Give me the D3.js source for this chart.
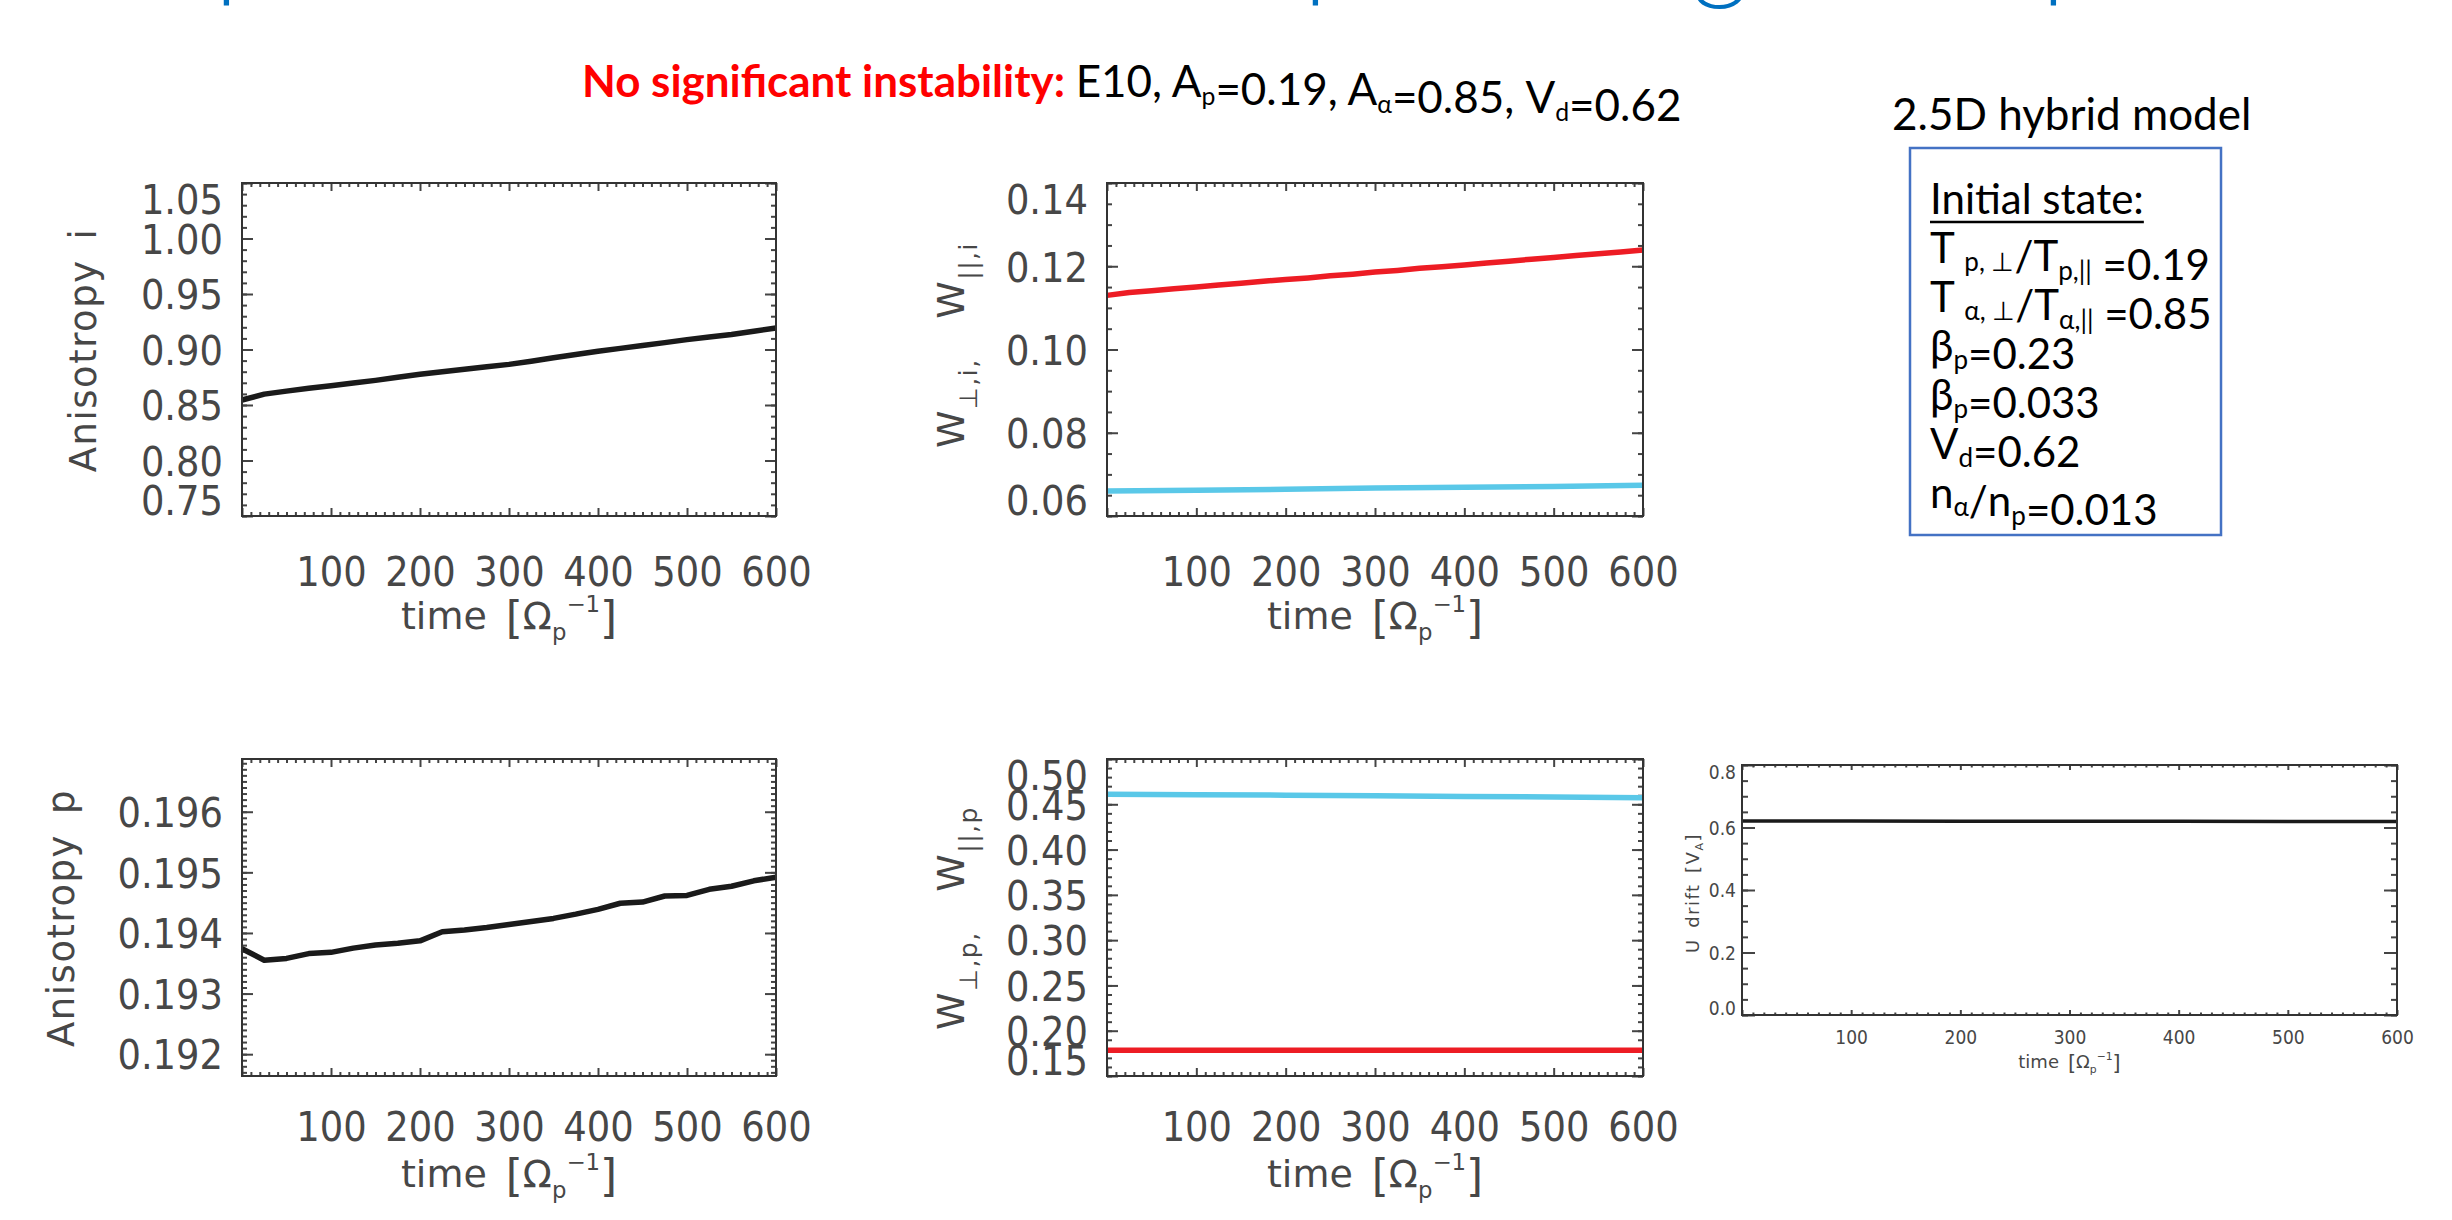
<!DOCTYPE html>
<html>
<head>
<meta charset="utf-8">
<script src="https://cdn.jsdelivr.net/npm/d3@7"></script>
<style>
  body { margin: 0; background: #fff; }
  svg { display: block; }
</style>
</head>
<body>
<svg id="fig" width="2452" height="1220"></svg>
<script>
// time samples [Omega_p^-1]
var tFine = [0,25,50,75,100,125,150,175,200,225,250,275,300,325,350,375,400,425,450,475,500,525,550,575,600];
var tCoarse = [0,100,200,300,400,500,600];

// series
var anisoI = [0.8545,0.8598,0.8625,0.8650,0.8673,0.8698,0.8722,0.8750,0.8777,0.8800,0.8822,0.8844,0.8866,
              0.8895,0.8925,0.8955,0.8985,0.9010,0.9036,0.9062,0.9089,0.9112,0.9136,0.9165,0.9193];
var anisoP = [0.19374,0.19355,0.19358,0.19366,0.19368,0.19375,0.19380,0.19383,0.19387,0.19402,0.19405,0.19409,0.19414,
              0.19419,0.19424,0.19431,0.19439,0.19449,0.19451,0.19461,0.19462,0.19472,0.19477,0.19486,0.19492];
var wRedI = [0.1130,0.1137,0.1141,0.1146,0.1150,0.1155,0.1159,0.1164,0.1168,0.1172,0.1177,0.1181,0.1186,
             0.1190,0.1195,0.1199,0.1203,0.1208,0.1212,0.1217,0.1221,0.1226,0.1230,0.1234,0.1239];
var wBlueI = [0.0660,0.0662,0.0664,0.0667,0.0669,0.0671,0.0674];
var wBlueP = [0.4611,0.4606,0.4601,0.4594,0.4587,0.4580,0.4573];
var wRedP = [0.1785,0.1785,0.1784,0.1784,0.1784,0.1784,0.1784];
var uDrift = [0.621,0.621,0.620,0.620,0.620,0.619,0.619];

// tick labels
var xTicks = [0,100,200,300,400,500,600];
var yTicksAnisoI = [0.75,0.80,0.85,0.90,0.95,1.00,1.05];
var yTicksWI = [0.06,0.08,0.10,0.12,0.14];
var yTicksAnisoP = [0.192,0.193,0.194,0.195,0.196];
var yTicksWP = [0.15,0.20,0.25,0.30,0.35,0.40,0.45,0.50];
var yTicksDrift = [0.0,0.2,0.4,0.6,0.8];

var RED = "#ed1c24", BLUE = "#5ac8e8", INK = "#1a1a1a", AXIS_INK = "#474747";
var IDL = '"DejaVu Sans Condensed", "DejaVu Sans", sans-serif';
var IDL_WIDE = '"DejaVu Sans", sans-serif';
var OFFICE = 'Lato, "Open Sans", sans-serif';

var svg = d3.select("#fig");

function panel(p) {
  var g = svg.append("g").attr("transform", "translate(" + p.left + "," + p.top + ")");
  var x = d3.scaleLinear().domain([0, 600]).range([0, p.w]);
  var y = d3.scaleLinear().domain(p.yDomain).range([p.h, 0]);

  var xMinor = d3.range(0, 601, 10).filter(v => v % 100);
  var k0 = Math.ceil(p.yDomain[0] / p.yMinor - 1e-6), k1 = Math.floor(p.yDomain[1] / p.yMinor + 1e-6);
  var yMinor = d3.range(k0, k1 + 1).map(k => k * p.yMinor);

  function ticks(axis, tr) {
    var a = g.append("g").attr("transform", tr || null).call(axis);
    a.select(".domain").remove();
    a.selectAll("line").attr("stroke", "#444").attr("stroke-width", 2);
    return a;
  }
  ticks(d3.axisBottom(x).tickValues(xMinor).tickSize(-p.xt[1]).tickFormat(""), "translate(0," + p.h + ")");
  ticks(d3.axisTop(x).tickValues(xMinor).tickSize(-p.xt[1]).tickFormat(""));
  ticks(d3.axisTop(x).tickValues(xTicks).tickSize(-p.xt[0]).tickFormat(""));
  ticks(d3.axisLeft(y).tickValues(yMinor).tickSize(-p.yt[1]).tickFormat(""));
  ticks(d3.axisRight(y).tickValues(yMinor).tickSize(-p.yt[1]).tickFormat(""), "translate(" + p.w + ",0)");
  ticks(d3.axisRight(y).tickValues(p.yTicks).tickSize(-p.yt[0]).tickFormat(""), "translate(" + p.w + ",0)");

  var xb = ticks(d3.axisBottom(x).tickValues(xTicks).tickSize(-p.xt[0]).tickFormat(d => d ? d : ""),
                 "translate(0," + p.h + ")");
  xb.attr("font-family", p.font).attr("font-size", p.fs);
  xb.selectAll("text").attr("fill", AXIS_INK).attr("y", p.xLab).attr("dy", "0.36em");

  var yl = ticks(d3.axisLeft(y).tickValues(p.yTicks).tickSize(-p.yt[0]).tickFormat(d3.format(p.fmt)));
  yl.attr("font-family", p.font).attr("font-size", p.fs);
  yl.selectAll("text").attr("fill", AXIS_INK).attr("x", -p.yPad).attr("dy", "0.36em")
    .attr("y", function(d) {
      var ty = y(d), c = Math.max(p.clamp, Math.min(p.h - p.clamp, ty));
      return c - ty;
    });

  var line = d3.line().x(d => x(d[0])).y(d => y(d[1]));
  p.series.forEach(function(s) {
    g.append("path")
      .datum(d3.zip(s.t, s.v))
      .attr("d", line)
      .attr("fill", "none")
      .attr("stroke", s.color)
      .attr("stroke-width", p.lw)
      .attr("stroke-linejoin", "round");
  });

  g.append("rect").attr("width", p.w).attr("height", p.h)
    .attr("fill", "none").attr("stroke", "#333").attr("stroke-width", 2);

  timeTitle(g, p.w / 2, p.h + p.tTitle, p.tfs);
  return g;
}

function timeTitle(g, cx, by, fs) {
  var t = g.append("text").attr("x", cx).attr("y", by).attr("text-anchor", "middle")
    .attr("font-family", IDL_WIDE).attr("font-size", fs).attr("fill", AXIS_INK);
  t.append("tspan").text("time\u2002");
  t.append("tspan").attr("font-size", fs * 1.15).attr("dy", fs * 0.1).text("[");
  t.append("tspan").attr("font-size", fs).attr("dy", -fs * 0.1).text("\u03A9");
  t.append("tspan").attr("font-size", fs * 0.6).attr("dy", fs * 0.3).text("p");
  t.append("tspan").attr("font-size", fs * 0.6).attr("dy", -fs * 0.75).text("\u22121");
  t.append("tspan").attr("font-size", fs * 1.15).attr("dy", fs * 0.55).text("]");
}

function yTitle(bx, cy, fs, parts) {
  var t = svg.append("text").attr("transform", "translate(" + bx + "," + cy + ") rotate(-90)")
    .attr("text-anchor", "middle").attr("font-family", IDL_WIDE).attr("font-size", fs)
    .attr("fill", AXIS_INK).attr("letter-spacing", 1.5);
  parts.forEach(function(q) {
    var s = t.append("tspan").text(q[0]);
    if (q[1]) s.attr("font-size", q[1]);
    if (q[2]) s.attr("dy", q[2]);
  });
}

var big = {font: IDL, fs: 41, tfs: 38, xt: [8, 4], yt: [11, 5], yPad: 19, lw: 5.5};
var topRow = {top: 183, h: 333, xLab: 55, tTitle: 113, clamp: 16};
var botRow = {top: 759, h: 317, xLab: 50, tTitle: 111, clamp: 16};

panel(Object.assign({}, big, topRow, {left: 242, w: 534,
  yDomain: [0.75, 1.05], yTicks: yTicksAnisoI, yMinor: 0.01, fmt: ".2f",
  series: [{t: tFine, v: anisoI, color: INK}]}));
panel(Object.assign({}, big, topRow, {left: 1107, w: 536,
  yDomain: [0.06, 0.14], yTicks: yTicksWI, yMinor: 0.005, fmt: ".2f",
  series: [{t: tFine, v: wRedI, color: RED}, {t: tCoarse, v: wBlueI, color: BLUE}]}));
panel(Object.assign({}, big, botRow, {left: 242, w: 534,
  yDomain: [0.19164, 0.19687], yTicks: yTicksAnisoP, yMinor: 0.0001, fmt: ".3f",
  series: [{t: tFine, v: anisoP, color: INK}]}));
panel(Object.assign({}, big, botRow, {left: 1107, w: 536,
  yDomain: [0.15, 0.50], yTicks: yTicksWP, yMinor: 0.01, fmt: ".2f",
  series: [{t: tCoarse, v: wBlueP, color: BLUE}, {t: tCoarse, v: wRedP, color: RED}]}));
panel({left: 1742, top: 765, w: 655, h: 250, font: IDL, fs: 19, tfs: 18, xt: [5, 2.5], yt: [13, 6],
  yPad: 6, xLab: 22, tTitle: 53, clamp: 7, lw: 3.5,
  yDomain: [0, 0.8], yTicks: yTicksDrift, yMinor: 0.05, fmt: ".1f",
  series: [{t: tCoarse, v: uDrift, color: INK}]});

// axis titles
yTitle(96, 350, 37, [["Anisotropy\u2002i"]]);
yTitle(74, 918, 37, [["Anisotropy\u2002p"]]);
yTitle(964, 345, 38, [["W"], ["\u22A5,i,", 25, 13], ["\u2003W", 38, -13], ["||,i", 25, 13]]);
yTitle(964, 918, 38, [["W"], ["\u22A5,p,", 25, 13], ["\u2003W", 38, -13], ["||,p", 25, 13]]);
yTitle(1699, 893, 18, [["U\u2002drift\u2002[V"], ["A", 11, 4], ["]", 18, -4]]);

// slide title (only its descenders remain in the frame)
var titleGlyphs = [["p", 245, -14], ["p", 1334, -14], [",", 1478, -14], ["g", 1720, -12], [",", 1853, -14], ["p", 2072, -14]];
titleGlyphs.forEach(function(c) {
  svg.append("text").attr("x", c[1]).attr("y", c[2]).attr("text-anchor", "middle")
    .attr("font-family", OFFICE).attr("font-weight", 300).attr("font-size", 110)
    .attr("fill", "#0070c0").text(c[0]);
});

function sub(t, s, fs) {
  t.append("tspan").attr("font-size", fs * 0.62).attr("dy", fs * 0.2).text(s);
  t.append("tspan").attr("font-size", fs).attr("dy", -fs * 0.2).text("");
}

// subtitle
var stFs = 40;
var st = svg.append("text").attr("x", 582).attr("y", 97).attr("font-family", OFFICE).attr("font-size", stFs);
st.append("tspan").attr("fill", "#ff0000").attr("font-weight", 700).text("No significant instability: ");
st.append("tspan").attr("fill", "#000").text("E10, A");
sub(st, "p", stFs);
st.append("tspan").text("=0.19, A");
sub(st, "\u03B1", stFs);
st.append("tspan").text("=0.85, V");
sub(st, "d", stFs);
st.append("tspan").text("=0.62");
var stW = st.node().getComputedTextLength();
st.attr("font-size", stFs * 1104 / stW);

svg.append("text").attr("x", 1892).attr("y", 130).attr("font-family", OFFICE).attr("font-size", 44)
  .attr("fill", "#000").text("2.5D hybrid model");

// initial-state box
svg.append("rect").attr("x", 1910).attr("y", 148).attr("width", 311).attr("height", 387)
  .attr("fill", "#fff").attr("stroke", "#4472c4").attr("stroke-width", 2.5);

var boxFs = 42, bx = 1930;
var lines = [
  [["Initial state:"]],
  [["T "], ["p, \u22A5", 1], ["/T"], ["p,||", 1], [" =0.19"]],
  [["T "], ["\u03B1, \u22A5", 1], ["/T"], ["\u03B1,||", 1], [" =0.85"]],
  [["\u03B2"], ["p", 1], ["=0.23"]],
  [["\u03B2"], ["p", 1], ["=0.033"]],
  [["V"], ["d", 1], ["=0.62"]],
  [["n"], ["\u03B1", 1], ["/n"], ["p", 1], ["=0.013"]]
];
var baselines = [214, 263, 312, 361, 410, 459, 508];
lines.forEach(function(parts, i) {
  var t = svg.append("text").attr("x", bx).attr("y", baselines[i]).attr("font-family", OFFICE)
    .attr("font-size", boxFs).attr("fill", "#000");
  parts.forEach(function(q) {
    if (q[1]) sub(t, q[0], boxFs);
    else t.append("tspan").text(q[0]);
  });
  if (i === 0) {
    var w = t.node().getComputedTextLength();
    svg.append("line").attr("x1", bx).attr("x2", bx + w).attr("y1", baselines[i] + 8).attr("y2", baselines[i] + 8)
      .attr("stroke", "#000").attr("stroke-width", 2.5);
  }
});
</script>
</body>
</html>
